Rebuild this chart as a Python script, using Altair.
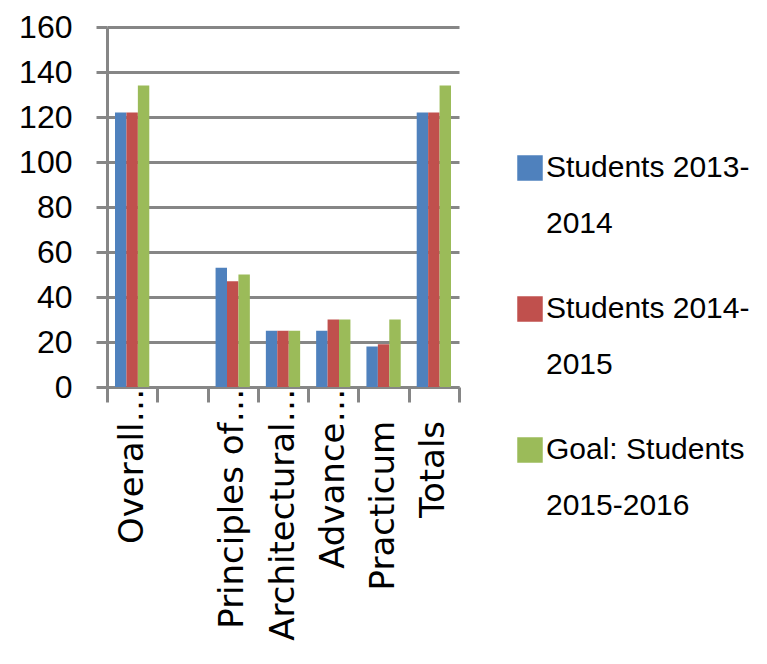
import altair as alt
import pandas as pd

categories = ["Overall…", " ", "Principles of…", "Architectural…", "Advance…", "Practicum", "Totals"]
series = ["Students 2013-2014", "Students 2014-2015", "Goal: Students 2015-2016"]
legend_line1 = ["Students 2013-", "Students 2014-", "Goal: Students"]
legend_line2 = ["2014", "2015", "2015-2016"]
colors = ["#4F81BD", "#C0504D", "#9BBB59"]

# values per category (None = no bar)
s2013 = [122, None, 53, 25, 25, 18, 122]
s2014 = [122, None, 47, 25, 30, 19, 122]
goal = [134, None, 50, 25, 30, 30, 134]

rows = []
for i, c in enumerate(categories):
    for s, vals in zip(series, [s2013, s2014, goal]):
        if vals[i] is not None:
            rows.append({"category": c, "series": s, "value": vals[i]})
df = pd.DataFrame(rows)

leg = pd.DataFrame({"series": series, "line1": legend_line1, "line2": legend_line2})

GRAY = "#868686"
FONT = "Liberation Sans"
color_scale = alt.Scale(domain=series, range=colors)

# untruncated labels keep the slot of the ellipsis free, as in the original
# (non-breaking spaces closed by a zero-width space so they are not trimmed)
label_expr = ("indexof(datum.label, '…') < 0 ? "
              "datum.label + '\u00a0\u00a0\u00a0\u200b' : datum.label")

main = alt.Chart(df).mark_bar().encode(
    x=alt.X("category:N", sort=categories,
            scale=alt.Scale(domain=categories, paddingInner=0, paddingOuter=0),
            axis=alt.Axis(title=None, labelAngle=270, tickBand="extent", tickSize=15,
                          tickWidth=3, tickColor=GRAY, domainColor=GRAY, domainWidth=3,
                          labelFont="DejaVu Sans", labelFontSize=34, labelColor="black",
                          labelPadding=-14, labelLimit=400, grid=False,
                          labelExpr=label_expr)),
    xOffset=alt.XOffset("series:N", sort=series,
                        scale=alt.Scale(domain=series, paddingInner=0, paddingOuter=0.7)),
    y=alt.Y("value:Q", scale=alt.Scale(domain=[0, 160]),
            axis=alt.Axis(title=None, values=list(range(0, 161, 20)), tickSize=11,
                          tickWidth=3, tickColor=GRAY, domainColor=GRAY, domainWidth=3,
                          gridColor=GRAY, gridWidth=3, grid=True,
                          labelFont=FONT, labelFontSize=32,
                          labelColor="black", labelPadding=24)),
    color=alt.Color("series:N", scale=color_scale, legend=None),
).properties(width=352, height=360)

ly = alt.Y("series:N", sort=series,
           scale=alt.Scale(type="point", domain=series, padding=1.016), axis=None)

base = alt.Chart(leg)
squares = base.mark_square(size=650, opacity=1).encode(
    y=ly, x=alt.value(59),
    color=alt.Color("series:N", scale=color_scale, legend=None),
)
text1 = base.mark_text(align="left", baseline="alphabetic", dy=9,
                       font=FONT, fontSize=30, color="black").encode(
    y=ly, x=alt.value(75), text="line1:N")
text2 = base.mark_text(align="left", baseline="alphabetic", dy=65,
                       font=FONT, fontSize=30, color="black").encode(
    y=ly, x=alt.value(75), text="line2:N")
legend = alt.layer(squares, text1, text2).properties(width=285, height=564)

chart = alt.hconcat(main, legend, spacing=10).properties(
    padding={"left": 10, "top": 3, "right": 0, "bottom": 0}
).configure_view(stroke=None)

chart.save("out.html", embed_options={"renderer": "svg", "actions": False})
